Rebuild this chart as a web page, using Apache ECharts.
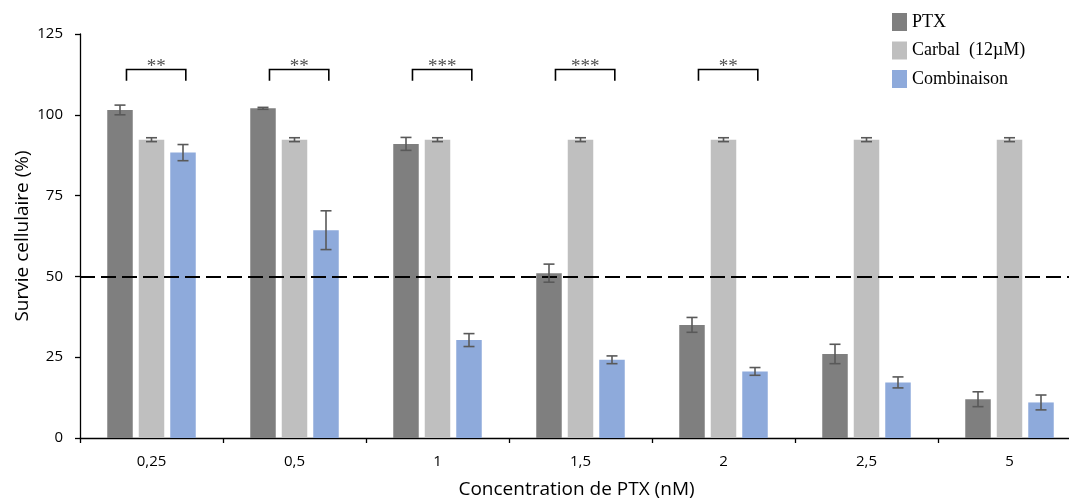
<!DOCTYPE html>
<html>
<head>
<meta charset="utf-8">
<script src="https://cdn.jsdelivr.net/npm/echarts@6/dist/echarts.min.js"></script>
<style>
html,body{margin:0;padding:0;background:#fff;}
#chart{width:1069px;height:498px;}
</style>
</head>
<body>
<div id="chart"></div>
<script>
// ---- data ----
const categories = ['0,25', '0,5', '1', '1,5', '2', '2,5', '5'];
const seriesNames = ['PTX', 'Carbal  (12\u00b5M)', 'Combinaison'];
const ptx = [101.5, 102, 91, 51, 35, 26, 12];
const ptxErr = [1.5, 0.3, 2, 2.8, 2.3, 3, 2.3];
const carbal = [92.3, 92.3, 92.3, 92.3, 92.3, 92.3, 92.3];
const carbalErr = [0.6, 0.6, 0.6, 0.6, 0.6, 0.6, 0.6];
const combi = [88.3, 64.3, 30.3, 24.2, 20.6, 17.2, 11];
const combiErr = [2.5, 6, 2, 1.2, 1.2, 1.7, 2.3];
const sigIndex = [0, 1, 2, 3, 4];
const sigLabels = ['**', '**', '***', '***', '**'];
const thresholdValue = 50;
const yTicks = [0, 25, 50, 75, 100, 125];

// ---- style ----
const colors = ['#7f7f7f', '#bfbfbf', '#8eaadb'];
const BAR_W = 25.5;
const BAR_GAP = 6;
const offsets = [-(BAR_W + BAR_GAP), 0, BAR_W + BAR_GAP];
const BRACKET_TOP = 114;
const BRACKET_LEG = 110.5;
const STAR_Y = 116.4;

function errSeries(vals, errs, k) {
  return {
    type: 'custom',
    z: 5,
    silent: true,
    data: vals.map((v, i) => [i, v, errs[i]]),
    renderItem: function (params, api) {
      const i = api.value(0), v = api.value(1), e = api.value(2);
      const x = api.coord([i, v])[0] + offsets[k];
      const yTop = api.coord([i, v + e])[1];
      const yBot = api.coord([i, v - e])[1];
      const cap = 5.5;
      const st = { stroke: '#595959', lineWidth: 1.6 };
      return {
        type: 'group',
        children: [
          { type: 'line', shape: { x1: x, y1: yTop, x2: x, y2: yBot }, style: st },
          { type: 'line', shape: { x1: x - cap, y1: yTop, x2: x + cap, y2: yTop }, style: st },
          { type: 'line', shape: { x1: x - cap, y1: yBot, x2: x + cap, y2: yBot }, style: st }
        ]
      };
    }
  };
}

function barSeries(name, vals, k) {
  return {
    name: name,
    type: 'bar',
    data: vals,
    barWidth: BAR_W,
    barGap: (BAR_GAP / BAR_W * 100) + '%',
    itemStyle: { color: colors[k] },
    emphasis: { disabled: true },
    markLine: k === 0 ? {
      silent: true,
      symbol: 'none',
      label: { show: false },
      lineStyle: { color: '#000', type: [15, 6], width: 1.8 },
      data: [{ yAxis: thresholdValue }]
    } : undefined
  };
}

const chart = echarts.init(document.getElementById('chart'), null, { renderer: 'canvas' });
chart.setOption({
  animation: false,
  backgroundColor: '#fff',
  grid: { left: 80, top: 34, width: 1001, height: 404, outerBoundsMode: 'none', containLabel: false },
  legend: {
    orient: 'vertical',
    left: 892,
    top: 13,
    padding: 0,
    itemWidth: 15,
    itemHeight: 18,
    itemGap: 10.5,
    icon: 'rect',
    data: seriesNames,
    textStyle: { fontFamily: 'Liberation Serif', fontSize: 18, color: '#000', padding: [3, 0, 0, 0] }
  },
  xAxis: {
    type: 'category',
    data: categories,
    axisLine: { lineStyle: { color: '#000', width: 1.3 } },
    axisTick: { show: true, length: 5, lineStyle: { color: '#000', width: 1.3 } },
    axisLabel: { margin: 16, fontFamily: 'Open Sans', fontSize: 15, color: '#000' },
    name: 'Concentration de PTX (nM)',
    nameLocation: 'middle',
    nameGap: 42,
    nameMoveOverlap: false,
    nameTextStyle: { fontFamily: 'Open Sans', fontSize: 19, color: '#000', padding: [0, 8, 0, 0] }
  },
  yAxis: {
    type: 'value',
    min: 0,
    max: 125,
    interval: 25,
    splitLine: { show: false },
    axisLine: { show: true, lineStyle: { color: '#000', width: 1.3 } },
    axisTick: { show: true, length: 5, lineStyle: { color: '#000', width: 1.3 } },
    axisLabel: { margin: 17, fontFamily: 'Open Sans', fontSize: 15, color: '#000' },
    name: 'Survie cellulaire (%)',
    nameLocation: 'middle',
    nameGap: 48,
    nameMoveOverlap: false,
    nameTextStyle: { fontFamily: 'Open Sans', fontSize: 19, color: '#000' }
  },
  series: [
    barSeries(seriesNames[0], ptx, 0),
    barSeries(seriesNames[1], carbal, 1),
    barSeries(seriesNames[2], combi, 2),
    errSeries(ptx, ptxErr, 0),
    errSeries(carbal, carbalErr, 1),
    errSeries(combi, combiErr, 2),
    {
      type: 'custom',
      silent: true,
      z: 6,
      data: sigIndex.map((c, i) => [c, i]),
      renderItem: function (params, api) {
        const i = api.value(0);
        const lbl = sigLabels[api.value(1)];
        const cx = api.coord([i, 0])[0];
        const band = api.size([1, 0])[0];
        const x1 = cx - 0.175 * band;
        const x2 = cx + 0.24 * band;
        const yT = api.coord([i, BRACKET_TOP])[1];
        const yL = api.coord([i, BRACKET_LEG])[1];
        const yS = api.coord([i, STAR_Y])[1];
        const st = { stroke: '#000', lineWidth: 1.6, fill: null };
        return {
          type: 'group',
          children: [
            { type: 'polyline', shape: { points: [[x1, yL], [x1, yT], [x2, yT], [x2, yL]] }, style: st },
            { type: 'text', style: { x: (x1 + x2) / 2, y: yS + 5, text: lbl, fill: '#505050',
              font: '19px "Liberation Serif"', textAlign: 'center', textVerticalAlign: 'middle' } }
          ]
        };
      }
    }
  ]
});
</script>
</body>
</html>
